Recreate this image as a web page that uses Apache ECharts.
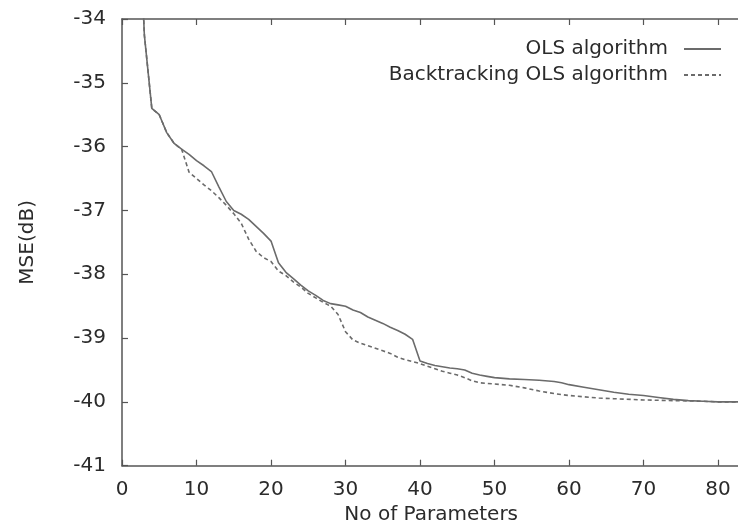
<!DOCTYPE html>
<html>
<head>
<meta charset="utf-8">
<script src="https://cdn.jsdelivr.net/npm/echarts@6/dist/echarts.min.js"></script>
<style>
  html, body { margin: 0; padding: 0; background: #fff; }
  #chart { width: 738px; height: 524px; }
</style>
</head>
<body>
<div id="chart"></div>
<script>
// Number of model parameters and resulting MSE (dB) for both selection methods
const olsParams = [2, 3, 4, 5, 6, 7, 8, 9, 10, 11, 12, 13, 14, 15, 16, 17, 18, 19, 20, 21, 22, 23, 24, 25, 26, 27, 28, 29, 30, 31, 32, 33, 34, 35, 36, 37, 38, 39, 40, 41, 42, 43, 44, 45, 46, 47, 48, 49, 50, 52, 54, 56, 58, 59, 60, 62, 64, 66, 68, 70, 72, 74, 76, 78, 80, 83];
const olsMse = [-31.5, -34.25, -35.4, -35.5, -35.78, -35.95, -36.04, -36.12, -36.22, -36.3, -36.39, -36.63, -36.86, -37.0, -37.06, -37.14, -37.25, -37.36, -37.48, -37.82, -37.97, -38.07, -38.17, -38.26, -38.33, -38.41, -38.46, -38.48, -38.5, -38.56, -38.6, -38.67, -38.72, -38.77, -38.83, -38.88, -38.94, -39.02, -39.36, -39.4, -39.43, -39.45, -39.47, -39.48, -39.5, -39.55, -39.58, -39.6, -39.62, -39.64, -39.65, -39.66, -39.68, -39.7, -39.73, -39.77, -39.81, -39.85, -39.88, -39.9, -39.93, -39.96, -39.98, -39.99, -40.0, -40.0];

const btParams = [2, 3, 4, 5, 6, 7, 8, 9, 10, 11, 12, 13, 14, 15, 16, 17, 18, 19, 20, 21, 22, 23, 24, 25, 26, 27, 28, 29, 30, 31, 32, 33, 34, 35, 36, 37, 38, 39, 40, 41, 42, 43, 44, 45, 46, 47, 48, 50, 52, 54, 56, 58, 60, 62, 64, 66, 70, 74, 78, 80, 83];
const btMse = [-31.5, -34.25, -35.4, -35.5, -35.78, -35.95, -36.04, -36.4, -36.5, -36.6, -36.69, -36.8, -36.92, -37.05, -37.2, -37.45, -37.64, -37.74, -37.8, -37.95, -38.02, -38.12, -38.2, -38.3, -38.37, -38.44, -38.5, -38.63, -38.9, -39.03, -39.08, -39.12, -39.16, -39.2, -39.24, -39.3, -39.34, -39.37, -39.4, -39.44, -39.48, -39.52, -39.55, -39.58, -39.62, -39.67, -39.7, -39.72, -39.74, -39.78, -39.83, -39.87, -39.9, -39.92, -39.94, -39.95, -39.97, -39.98, -39.99, -40.0, -40.0];

const seriesNames = ['OLS algorithm', 'Backtracking OLS algorithm'];
const xTicks = [0, 10, 20, 30, 40, 50, 60, 70, 80];
const yTicks = [-41, -40, -39, -38, -37, -36, -35, -34];

const FONT = 'DejaVu Sans';
const TEXT = '#2b2b2b';
const AXIS = '#555';
const LINE = '#6b6b6b';

const pairs = (xs, ys) => xs.map((x, i) => [x, ys[i]]);

const xLabel = v => (xTicks.indexOf(v) >= 0 ? String(v) : '');

const chart = echarts.init(document.getElementById('chart'), null, { renderer: 'canvas' });
chart.setOption({
  backgroundColor: '#fff',
  animation: false,
  textStyle: { fontFamily: FONT },
  grid: { left: 122, right: -2.4, top: 19, bottom: 58.3, containLabel: false, outerBoundsMode: 'none' },
  legend: {
    orient: 'vertical',
    right: 11,
    top: 34,
    align: 'right',
    itemWidth: 37,
    itemHeight: 14,
    itemGap: 6,
    selectedMode: false,
    itemStyle: { opacity: 0 },
    textStyle: { fontFamily: FONT, fontSize: 20, color: TEXT, lineHeight: 20, padding: [0, 11, 0, 0] },
    data: seriesNames
  },
  xAxis: [{
    type: 'value',
    min: 0,
    max: 83,
    interval: 10,
    name: 'No of Parameters',
    nameLocation: 'middle',
    nameGap: 37,
    nameTextStyle: { fontFamily: FONT, fontSize: 20, color: TEXT },
    axisLine: { show: true, onZero: false, lineStyle: { color: AXIS, width: 1.5 } },
    axisTick: { show: true, inside: true, length: 6, lineStyle: { color: AXIS, width: 1.2 } },
    axisLabel: { fontFamily: FONT, fontSize: 20, color: TEXT, margin: 14, formatter: xLabel, showMaxLabel: false },
    splitLine: { show: false }
  }, {
    type: 'value',
    position: 'top',
    min: 0,
    max: 83,
    interval: 10,
    axisLine: { show: true, onZero: false, lineStyle: { color: AXIS, width: 1.5 } },
    axisTick: { show: true, inside: true, length: 6, lineStyle: { color: AXIS, width: 1.2 } },
    axisLabel: { show: false },
    splitLine: { show: false }
  }],
  yAxis: {
    type: 'value',
    min: yTicks[0],
    max: yTicks[yTicks.length - 1],
    interval: 1,
    name: 'MSE(dB)',
    nameLocation: 'middle',
    nameGap: 84,
    nameTextStyle: { fontFamily: FONT, fontSize: 20, color: TEXT },
    axisLine: { show: true, onZero: false, lineStyle: { color: AXIS, width: 1.5 } },
    axisTick: { show: true, inside: true, length: 6, lineStyle: { color: AXIS, width: 1.2 } },
    axisLabel: { fontFamily: FONT, fontSize: 20, color: TEXT, margin: 16 },
    splitLine: { show: false }
  },
  series: [{
    name: seriesNames[0],
    type: 'line',
    data: pairs(olsParams, olsMse),
    showSymbol: false,
    symbol: 'none',
    clip: true,
    lineStyle: { color: LINE, width: 1.6, type: 'solid' },
    itemStyle: { color: LINE },
    z: 3
  }, {
    name: seriesNames[1],
    type: 'line',
    data: pairs(btParams, btMse),
    showSymbol: false,
    symbol: 'none',
    clip: true,
    lineStyle: { color: LINE, width: 1.6, type: [4, 3] },
    itemStyle: { color: LINE },
    z: 2
  }]
});
</script>
</body>
</html>
